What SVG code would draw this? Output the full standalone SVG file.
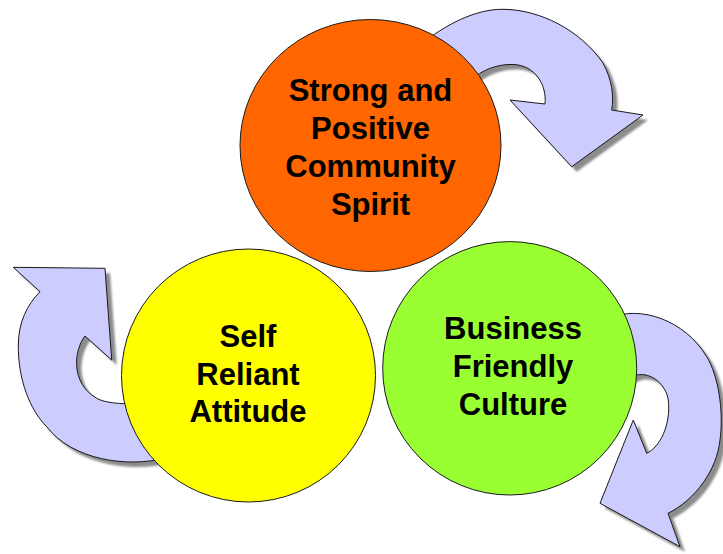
<svg xmlns="http://www.w3.org/2000/svg" width="723" height="554" viewBox="0 0 723 554">
<defs>
<style>
.arrow{fill:#CCCCFF;stroke:#1a1a1a;stroke-width:1;stroke-linejoin:miter}
.shadow{fill:#8c8c8c;stroke:none}
.node{stroke:#1a1a1a;stroke-width:1}
.lbl{font-family:"Liberation Sans",Arial,sans-serif;font-weight:bold;font-size:31px;fill:#000;text-anchor:middle}
</style>
<filter id="blur" x="-10%" y="-10%" width="120%" height="120%"><feGaussianBlur stdDeviation="1"/></filter>
<path id="a1" d="M420,45 C445,25 475,9 503,9.3 C540,9.5 580,30 603,63 C612,80 614,95 611.7,110 L643,115 L571.7,166.7 L510,100 L545,104 C547,85 535,65 513,64.5 C497,64 480,70 465,85 Z"/>
<path id="a2" d="M165,458 C128,468 72,460 46.7,426.7 C30,410 18,380 18.3,345 C18.5,322 27,305 40,291.7 L13.3,267.3 L105,268.3 L111.7,360 L85,336 C74,350 70,383 96.7,398.3 C105,403 120,404 138,404 Z"/>
<path id="a3" d="M610,318 C640,305 685,320 706.7,356.7 C718,375 724,410 720,440 C717,470 695,500 668,513.3 L680,546.7 L600,503.3 L633.3,420 L646.7,453.3 C660,447 671,425 668.3,400 C666,385 652,372 636.7,375 L620,382 Z"/>
</defs>
<g id="connectors">
<g class="shadow" filter="url(#blur)" transform="translate(5,5)">
<use href="#a1"/><use href="#a2"/><use href="#a3"/>
</g>
<use href="#a1" class="arrow"/>
<use href="#a2" class="arrow"/>
<use href="#a3" class="arrow"/>
</g>
<g id="node-community">
<ellipse class="node" cx="370.5" cy="145.5" rx="130.5" ry="126" fill="#FF6600"/>
<text class="lbl" x="370.5" y="101">Strong and</text>
<text class="lbl" x="370.5" y="139">Positive</text>
<text class="lbl" x="370.5" y="177">Community</text>
<text class="lbl" x="370.5" y="215">Spirit</text>
</g>
<g id="node-self">
<ellipse class="node" cx="248.5" cy="375.5" rx="127" ry="126.5" fill="#FFFF00"/>
<text class="lbl" x="248" y="347">Self</text>
<text class="lbl" x="248" y="384.5">Reliant</text>
<text class="lbl" x="248" y="422">Attitude</text>
</g>
<g id="node-business">
<ellipse class="node" cx="509.7" cy="368.3" rx="127" ry="126.7" fill="#99FF33"/>
<text class="lbl" x="513" y="338.5">Business</text>
<text class="lbl" x="513" y="376.7">Friendly</text>
<text class="lbl" x="513" y="415">Culture</text>
</g>
</svg>
